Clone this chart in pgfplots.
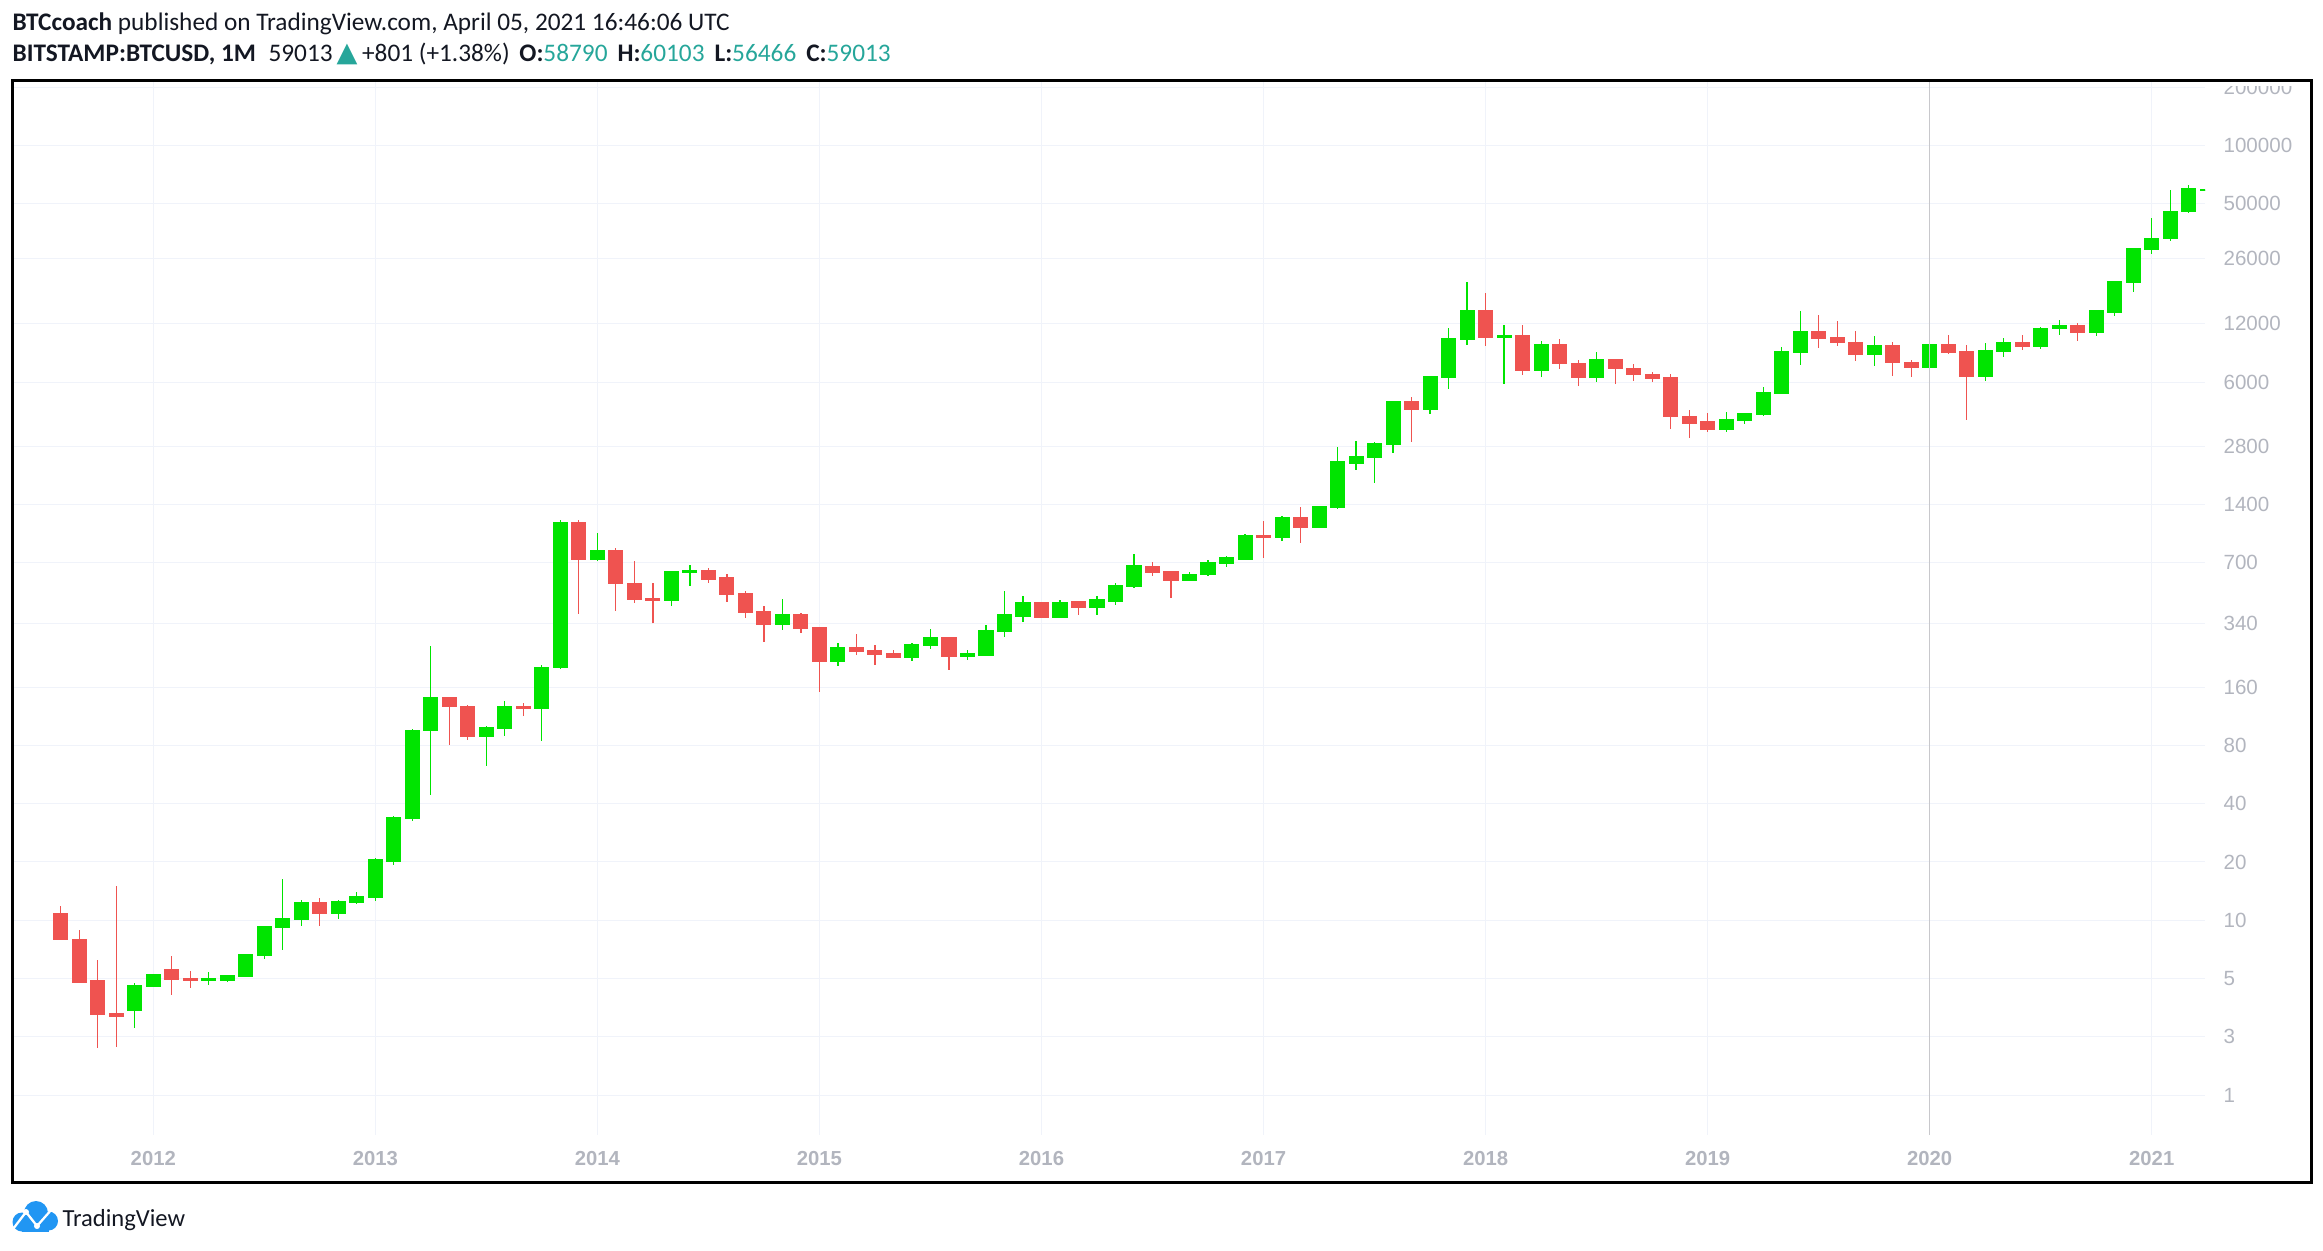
\documentclass[border=0pt]{standalone}
\usepackage{fontspec}
\setmainfont{Carlito}
\newfontfamily\tvfont{Liberation Sans}
\newfontfamily\symfont{DejaVu Sans}
\usepackage{xcolor}
\usepackage{xfp}
\usepackage{pgfplots}
\usepackage{pgfplotstable}
\pgfplotsset{compat=1.18}
\definecolor{tvup}{RGB}{0,228,0}
\definecolor{tvdown}{RGB}{239,83,80}
\definecolor{tvlabel}{RGB}{178,181,190}
\definecolor{tvgrid}{RGB}{240,243,250}
\definecolor{tvteal}{RGB}{38,166,154}
\definecolor{tvtext}{RGB}{19,23,34}
\definecolor{tvblue}{RGB}{33,150,243}
\definecolor{tvvline}{RGB}{200,200,204}

% month index: Jan 2012 = 0 ; open high low close (BITSTAMP:BTCUSD, 1M)
\pgfplotstableread{
m o h l c
-5 10.9 11.86 7.92 7.92
-4 8.0 8.9 4.77 4.77
-3 4.86 6.24 2.2 3.26
-2 3.32 15.0 2.23 3.18
-1 3.42 4.75 2.79 4.58
0 4.55 5.28 4.55 5.28
1 5.54 6.55 4.12 4.92
2 4.98 5.48 4.49 4.88
3 4.88 5.41 4.63 4.98
4 4.86 5.16 4.83 5.16
5 5.1 6.7 5.1 6.62
6 6.55 9.24 6.34 9.24
7 9.13 16.3 7.03 10.16
8 10.04 12.73 9.35 12.29
9 12.29 13.04 9.35 10.9
10 10.9 12.73 10.16 12.43
11 12.29 14.0 12.14 13.2
12 13.1 20.9 12.6 20.5
13 20.1 34.6 19.4 33.8
14 33.4 97.2 32.6 96
15 95.2 261.6 44.4 140.5
16 140.5 140.5 80.4 126.3
17 127.7 129.3 85.3 88.4
18 88.4 100.7 62.8 98.4
19 97.2 135.6 89.8 127.7
20 127.7 132.4 113.4 124.7
21 124.7 208 84.6 203
22 201 1166 198 1125
23 1125 1166 383 727
24 727 1000 719 807
25 807 832 396 547
26 551 716 436 452
27 457 551 341 447
28 447 638 419 629
29 623 682 534 643
30 643 659 553 578
31 585 613 441 478
32 484 501 365 386
33 391 419 274 335
34 335 456 316 377
35 377 386 306 321
36 323 323 151 216
37 216 270 206 255
38 255 301 234 244
39 246 264 208 235
40 237 249 227 227
41 227 270 219 264
42 261 319 252 287
43 287 287 197 229
44 229 249 221 237
45 234 335 234 312
46 308 501 290 377
47 372 472 347 435
48 435 435 364 364
49 364 451 364 435
50 440 440 377 410
51 410 472 377 451
52 445 551 426 532
53 526 778 520 675
54 667 708 600 621
55 629 634 461 565
56 565 629 565 613
57 607 725 600 700
58 691 760 667 742
59 733 987 733 975
60 975 1152 742 952
61 952 1223 908 1194
62 1194 1361 887 1060
63 1060 1361 1060 1361
64 1345 2775 1330 2323
65 2295 2981 2112 2466
66 2437 2947 1811 2877
67 2843 4797 2587 4741
68 4741 5031 2947 4310
69 4310 6453 4110 6453
70 6377 11420 5530 10023
71 9909 19740 9333 13990
72 13990 17330 9226 10150
73 10150 11830 5870 10400
74 10400 11830 6535 6855
75 6855 9790 6377 9333
76 9333 10023 7020 7448
77 7535 7818 5729 6377
78 6377 8590 6013 7818
79 7818 7818 5870 7020
80 7100 7448 6085 6535
81 6610 6765 6013 6303
82 6377 6610 3437 3966
83 4011 4310 3090 3690
84 3740 4158 3334 3412
85 3412 4206 3334 3828
86 3796 4158 3664 4110
87 4063 5664 4030 5275
88 5236 9118 5236 8590
89 8520 13990 7388 10900
90 10900 13330 9040 10070
91 10150 12420 9250 9590
92 9640 11040 7745 8320
93 8320 10400 7300 9226
94 9226 9640 6484 7565
95 7622 7818 6400 7126
96 7126 9440 7126 9440
97 9440 10510 8420 8520
98 8590 9333 3840 6400
99 6400 9570 6105 8690
100 8624 10150 8124 9570
101 9570 10510 8830 9140
102 9140 11560 8930 11420
103 11290 12570 10550 11700
104 11700 12140 9820 10810
105 10810 14160 10420 13990
106 13710 19980 13220 19740
107 19590 29580 17590 29240
108 28970 42260 27620 33270
109 33010 58920 32270 45390
110 45460 62560 44990 59630
111 58790 60103 56466 59013
}\btc

\begin{document}
\begin{tikzpicture}
\path[use as bounding box] (0,0) rectangle (813.05pt,-437.85pt);
% header
\node[anchor=base west, inner sep=0pt, text=tvtext, font=\fontsize{8.85pt}{10pt}\selectfont] at (4.2pt,-10.6pt)
  {\textbf{BTCcoach} published on TradingView.com, April 05, 2021 16:46:06 UTC};
\node[anchor=base west, inner sep=0pt, text=tvtext, font=\fontsize{8.85pt}{10pt}\selectfont] at (4.2pt,-21.5pt)
  {\textbf{BITSTAMP:BTCUSD, 1M}\hspace{0.5em}59013\hspace{1.4pt}{\symfont\fontsize{9.5pt}{9.5pt}\selectfont\textcolor{tvteal}{▲}}\hspace{1.6pt}+801 (+1.38\%)\hspace{3.4pt}\textbf{O:}\textcolor{tvteal}{58790}\hspace{3.5pt}\textbf{H:}\textcolor{tvteal}{60103}\hspace{3.5pt}\textbf{L:}\textcolor{tvteal}{56466}\hspace{3.5pt}\textbf{C:}\textcolor{tvteal}{59013}};
\begin{axis}[
  at={(4.2pt,-397.25pt)}, anchor=south west,
  scale only axis, width=767.55pt, height=368.725pt,
  xmin=-7.636, xmax=110.88,
  ymode=log, ymin=0.779, ymax=213980,
  enlargelimits=false,
  axis line style={draw=none},
  major tick length=0pt, tick style={draw=none},
  xtick={0,12,24,36,48,60,72,84,96,108},
  xticklabels={2012,2013,2014,2015,2016,2017,2018,2019,2020,2021},
  ytick={1.25,2.5,5,10,20,40,80,160,340,700,1400,2800,6000,12000,26000,50000,100000,200000},
  yticklabels={1,3,5,10,20,40,80,160,340,700,1400,2800,6000,12000,26000,50000,100000,200000},
  yticklabel pos=right,
  minor tick num=0,
  grid=major, major grid style={tvgrid, line width=0.35pt},
  yticklabel style={anchor=west, inner sep=0pt, xshift=6.3pt, text=tvlabel, font=\tvfont\fontsize{7.2pt}{8pt}\selectfont},
  xticklabel style={anchor=center, inner sep=0pt, yshift=-8.4pt, text=tvlabel, font=\tvfont\bfseries\fontsize{7.1pt}{8pt}\selectfont},
]
\pgfplotstablegetrowsof{\btc}
\pgfmathtruncatemacro{\N}{\pgfplotsretval-1}
\pgfplotsforeachungrouped \i in {0,...,\N}{%
  \pgfplotstablegetelem{\i}{m}\of{\btc}\let\cm\pgfplotsretval
  \pgfplotstablegetelem{\i}{o}\of{\btc}\let\co\pgfplotsretval
  \pgfplotstablegetelem{\i}{h}\of{\btc}\let\ch\pgfplotsretval
  \pgfplotstablegetelem{\i}{l}\of{\btc}\let\cl\pgfplotsretval
  \pgfplotstablegetelem{\i}{c}\of{\btc}\let\cc\pgfplotsretval
  \edef\ccol{\ifnum\fpeval{\cc>=\co}=1 tvup\else tvdown\fi}%
  \edef\cmd{%
    \noexpand\addplot[\ccol, mark=none, line width=0.42pt, forget plot] coordinates {(\cm,\cl) (\cm,\ch)};
    \noexpand\addplot[fill=\ccol, draw=\ccol, mark=none, line width=0.35pt, forget plot] coordinates {(\fpeval{\cm-0.38},\co) (\fpeval{\cm+0.38},\co) (\fpeval{\cm+0.38},\cc) (\fpeval{\cm-0.38},\cc)} -- cycle;
  }%
  \cmd
}
\addplot[tvvline, mark=none, line width=0.42pt, forget plot] coordinates {(96,0.779) (96,213980)};
\end{axis}
\fill[white] (772.8pt,-24pt) rectangle (808.2pt,-30.1pt);
\draw[line width=1.05pt] (4.2pt,-28.35pt) rectangle (808.85pt,-413.7pt);
% logo
\begin{scope}[x=0.35pt,y=-0.35pt]
\fill[tvblue] (22,1222) circle (9.5);
\fill[tvblue] (36,1213) circle (12);
\fill[tvblue] (48.5,1221) circle (9.5);
\fill[tvblue] (22,1219) rectangle (48.5,1231.5);
\draw[white, line width=0.8pt, line join=round] (13,1229) -- (26,1212) -- (37,1226) -- (52,1209);
\fill[white] (26,1212) circle (3);
\fill[white] (37,1226) circle (3);
\node[anchor=base west, inner sep=0pt, text=tvtext, font=\fontsize{8.6pt}{10pt}\selectfont] at (62,1226) {TradingView};
\end{scope}
\end{tikzpicture}
\end{document}
